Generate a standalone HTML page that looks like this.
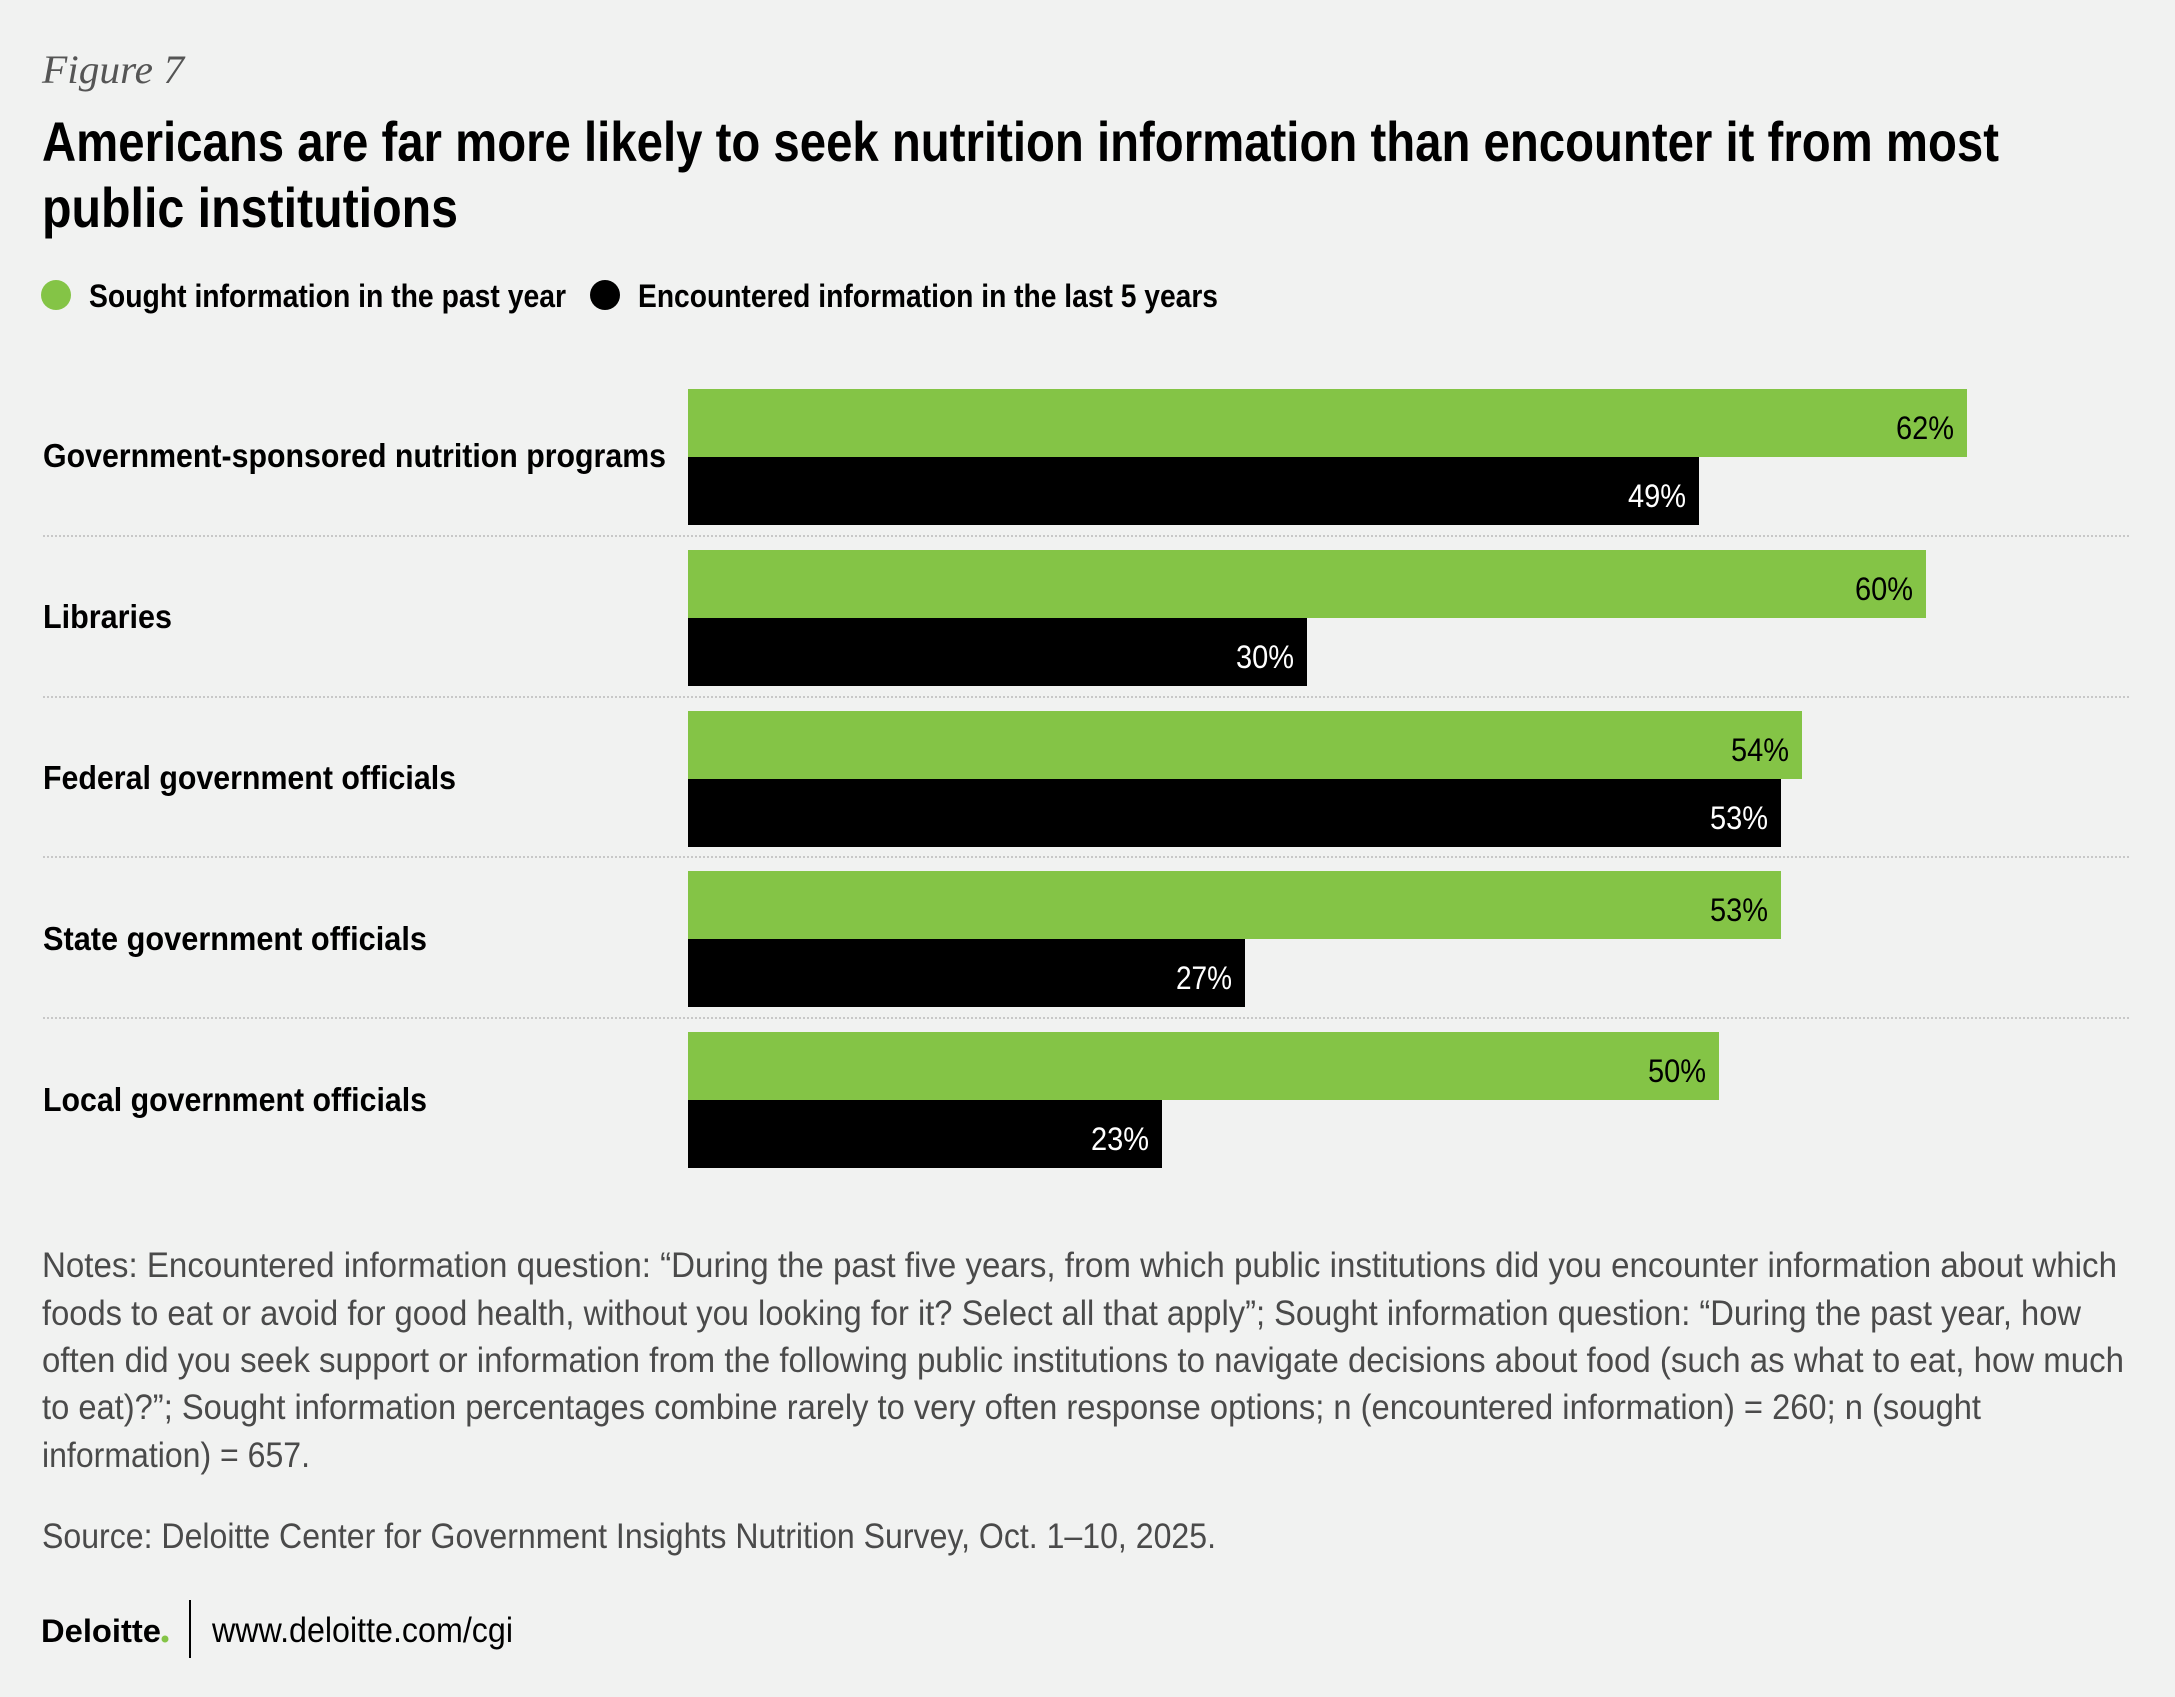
<!DOCTYPE html>
<html><head><meta charset="utf-8"><style>
html,body{margin:0;padding:0;background:#f1f2f1}
svg{display:block}
.b{font-family:"Liberation Sans",sans-serif;font-weight:bold}
.n{font-family:"Liberation Sans",sans-serif}
</style></head><body>
<svg width="2175" height="1697" viewBox="0 0 2175 1697" xmlns="http://www.w3.org/2000/svg">
<rect width="2175" height="1697" fill="#f1f2f1"/>
<text x="42" y="83" font-family="Liberation Serif,serif" font-style="italic" font-size="40" fill="#555" textLength="142" lengthAdjust="spacingAndGlyphs">Figure 7</text>
<text class="b" x="42" y="161" font-size="56" fill="#000" textLength="1957" lengthAdjust="spacingAndGlyphs">Americans are far more likely to seek nutrition information than encounter it from most</text>
<text class="b" x="42" y="227" font-size="56" fill="#000" textLength="416" lengthAdjust="spacingAndGlyphs">public institutions</text>
<circle cx="56" cy="295" r="15" fill="#84c446"/>
<text class="b" x="89" y="307" font-size="32" fill="#000" textLength="477" lengthAdjust="spacingAndGlyphs">Sought information in the past year</text>
<circle cx="605" cy="295" r="15" fill="#000"/>
<text class="b" x="638" y="307" font-size="32" fill="#000" textLength="580" lengthAdjust="spacingAndGlyphs">Encountered information in the last 5 years</text>
<g stroke="#c8c8c8" stroke-width="2" stroke-dasharray="2,2">
<line x1="43" y1="536" x2="2130" y2="536"/>
<line x1="43" y1="697" x2="2130" y2="697"/>
<line x1="43" y1="857" x2="2130" y2="857"/>
<line x1="43" y1="1018" x2="2130" y2="1018"/>
</g>
<g class="b" font-size="33" fill="#000">
<text x="43" y="467" textLength="623" lengthAdjust="spacingAndGlyphs">Government-sponsored nutrition programs</text>
<text x="43" y="628" textLength="129" lengthAdjust="spacingAndGlyphs">Libraries</text>
<text x="43" y="789" textLength="413" lengthAdjust="spacingAndGlyphs">Federal government officials</text>
<text x="43" y="950" textLength="384" lengthAdjust="spacingAndGlyphs">State government officials</text>
<text x="43" y="1111" textLength="384" lengthAdjust="spacingAndGlyphs">Local government officials</text>
</g>
<g>
<rect x="688" y="389" width="1279" height="68" fill="#84c446"/>
<rect x="688" y="457" width="1011" height="68" fill="#000"/>
<rect x="688" y="550" width="1238" height="68" fill="#84c446"/>
<rect x="688" y="618" width="619" height="68" fill="#000"/>
<rect x="688" y="711" width="1114" height="68" fill="#84c446"/>
<rect x="688" y="779" width="1093" height="68" fill="#000"/>
<rect x="688" y="871" width="1093" height="68" fill="#84c446"/>
<rect x="688" y="939" width="557" height="68" fill="#000"/>
<rect x="688" y="1032" width="1031" height="68" fill="#84c446"/>
<rect x="688" y="1100" width="474" height="68" fill="#000"/>
</g>
<g class="n" font-size="32" text-anchor="end">
<text x="1954" y="439" fill="#000" textLength="58" lengthAdjust="spacingAndGlyphs">62%</text>
<text x="1686" y="507" fill="#fff" textLength="58" lengthAdjust="spacingAndGlyphs">49%</text>
<text x="1913" y="600" fill="#000" textLength="58" lengthAdjust="spacingAndGlyphs">60%</text>
<text x="1294" y="668" fill="#fff" textLength="58" lengthAdjust="spacingAndGlyphs">30%</text>
<text x="1789" y="761" fill="#000" textLength="58" lengthAdjust="spacingAndGlyphs">54%</text>
<text x="1768" y="829" fill="#fff" textLength="58" lengthAdjust="spacingAndGlyphs">53%</text>
<text x="1768" y="921" fill="#000" textLength="58" lengthAdjust="spacingAndGlyphs">53%</text>
<text x="1232" y="989" fill="#fff" textLength="56" lengthAdjust="spacingAndGlyphs">27%</text>
<text x="1706" y="1082" fill="#000" textLength="58" lengthAdjust="spacingAndGlyphs">50%</text>
<text x="1149" y="1150" fill="#fff" textLength="58" lengthAdjust="spacingAndGlyphs">23%</text>
</g>
<g class="n" font-size="35" fill="#4a4a4a">
<text x="42" y="1277" textLength="2075" lengthAdjust="spacingAndGlyphs">Notes: Encountered information question: “During the past five years, from which public institutions did you encounter information about which</text>
<text x="42" y="1325" textLength="2039" lengthAdjust="spacingAndGlyphs">foods to eat or avoid for good health, without you looking for it? Select all that apply”; Sought information question: “During the past year, how</text>
<text x="42" y="1372" textLength="2082" lengthAdjust="spacingAndGlyphs">often did you seek support or information from the following public institutions to navigate decisions about food (such as what to eat, how much</text>
<text x="42" y="1419" textLength="1939" lengthAdjust="spacingAndGlyphs">to eat)?”; Sought information percentages combine rarely to very often response options; n (encountered information) = 260; n (sought</text>
<text x="42" y="1467" textLength="268" lengthAdjust="spacingAndGlyphs">information) = 657.</text>
<text x="42" y="1548" textLength="1174" lengthAdjust="spacingAndGlyphs">Source: Deloitte Center for Government Insights Nutrition Survey, Oct. 1–10, 2025.</text>
</g>
<text class="b" x="41" y="1642" font-size="32" fill="#000" textLength="120" lengthAdjust="spacingAndGlyphs">Deloitte</text>
<circle cx="165" cy="1639" r="3.5" fill="#84c446"/>
<line x1="190" y1="1600" x2="190" y2="1658" stroke="#000" stroke-width="2"/>
<text class="n" x="212" y="1642" font-size="35" fill="#000" textLength="301" lengthAdjust="spacingAndGlyphs">www.deloitte.com/cgi</text>
</svg>
</body></html>
